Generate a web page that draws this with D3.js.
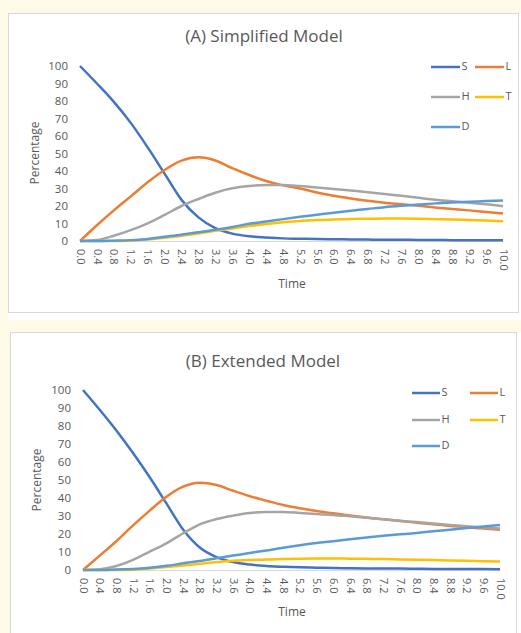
<!DOCTYPE html>
<html lang="en">
<head>
  <meta charset="UTF-8">
  <title>Simplified vs Extended Model</title>
  <script src="https://cdnjs.cloudflare.com/ajax/libs/d3/7.8.5/d3.min.js"></script>
  <style>
    body {
      margin: 0;
      background-color: #fffae8;
      font-family: "Open Sans", sans-serif;
    }
    #chart {
      width: 521px;
      height: 633px;
    }
    .tick text, .lbl {
      fill: #595959;
    }
  </style>
</head>
<body>
  <div id="chart"></div>
  <script>
    const time = [0, 0.4, 0.8, 1.2, 1.6, 2.0, 2.4, 2.8, 3.2, 3.6, 4.0, 4.4, 4.8,
      5.2, 5.6, 6.0, 6.4, 6.8, 7.2, 7.6, 8.0, 8.4, 8.8, 9.2, 9.6, 10.0];
    const yTicks = [0, 10, 20, 30, 40, 50, 60, 70, 80, 90, 100];
    const seriesNames = ["S", "L", "H", "T", "D"];
    const seriesColors = ["#4472c4", "#ed7d31", "#a5a5a5", "#ffc000", "#5b9bd5"];

    // (A) simplified model
    const sA = [100, 90, 79.5, 67.5, 53.5, 38.5, 23.5, 13.5, 7.3, 4.2, 2.7, 2.0, 1.5, 1.3, 1.1,
      1.0, 0.9, 0.8, 0.7, 0.7, 0.6, 0.6, 0.5, 0.5, 0.5, 0.5];
    const lA = [0, 9, 17.5, 25.5, 33.6, 40.6, 45.9, 47.8, 46, 41.6, 37.7, 34.3, 31.8, 30, 27.7,
      25.8, 24.3, 23, 21.9, 21, 20.1, 19.1, 18.3, 17.5, 16.6, 15.7];
    const hA = [0, 0.6, 3, 6.2, 10.1, 14.9, 20, 24, 27.6, 30.1, 31.4, 32, 32, 31.4, 30.6,
      29.7, 28.8, 27.9, 26.9, 25.8, 24.7, 23.6, 22.7, 21.9, 21, 19.9];
    const tA = [0, 0, 0, 0.2, 0.8, 1.8, 3, 4.3, 5.8, 7.2, 8.5, 9.7, 10.7, 11.4, 12,
      12.3, 12.6, 12.7, 12.8, 12.8, 12.7, 12.5, 12.3, 12, 11.7, 11.3];
    const dA = [0, 0, 0.2, 0.5, 1.2, 2.4, 3.6, 5, 6.4, 8, 9.8, 11.1, 12.5, 13.8, 15,
      16.2, 17.3, 18.3, 19.3, 20.1, 20.8, 21.5, 22, 22.4, 22.8, 23.2];

    // (B) extended model
    const sB = [100, 89, 77.5, 65, 51.5, 37, 22.5, 12.5, 7.2, 4.4, 3, 2.2, 1.8, 1.5, 1.3,
      1.1, 1.0, 0.9, 0.8, 0.8, 0.7, 0.6, 0.6, 0.5, 0.5, 0.4];
    const lB = [0, 8, 16, 24.8, 33, 40.7, 46.3, 48.5, 47.2, 44, 41, 38.5, 36.1, 34.3, 32.8,
      31.5, 30.3, 29.2, 28.2, 27.2, 26.3, 25.4, 24.5, 23.8, 23, 22.3];
    const hB = [0, 0.4, 2.2, 5.6, 10.2, 14.8, 20.4, 25.4, 28.3, 30.2, 31.7, 32.2, 32.2, 31.7, 31.1,
      30.6, 29.8, 29, 28.2, 27.4, 26.6, 25.8, 25, 24.3, 23.6, 23];
    const tB = [0, 0, 0, 0.2, 0.8, 1.6, 2.5, 3.4, 4.4, 5.2, 5.5, 5.9, 6.1, 6.3, 6.4,
      6.4, 6.3, 6.2, 6.1, 5.9, 5.7, 5.5, 5.3, 5.1, 4.9, 4.7];
    const dB = [0, 0, 0.3, 0.6, 1.3, 2.3, 3.7, 5, 6.5, 8, 9.5, 10.8, 12.4, 13.8, 15,
      16, 17.1, 18.1, 19, 19.8, 20.6, 21.5, 22.4, 23.3, 24.2, 25];

    const svg = d3.select("#chart").append("svg")
      .attr("width", 521)
      .attr("height", 633);

    function drawPanel(cfg) {
      // frame
      svg.append("rect")
        .attr("x", cfg.box[0]).attr("y", cfg.box[1])
        .attr("width", 521 - cfg.box[0]).attr("height", cfg.box[4])
        .attr("fill", "#ffffff");
      svg.append("rect")
        .attr("x", cfg.box[0] + 0.5).attr("y", cfg.box[1] + 0.5)
        .attr("width", cfg.box[2]).attr("height", cfg.box[3])
        .attr("fill", "none")
        .attr("stroke", "#d9d9d9");

      const x = d3.scaleLinear().domain([0, 10]).range([cfg.x0, cfg.x1]);
      const y = d3.scaleLinear().domain([0, 100]).range([cfg.y0, cfg.y1]);

      const g = svg.append("g");

      // title
      g.append("text")
        .attr("x", cfg.title[1]).attr("y", cfg.title[2])
        .attr("text-anchor", "middle")
        .attr("dominant-baseline", "middle")
        .attr("font-size", 17)
        .attr("fill", "#595959")
        .text(cfg.title[0]);

      // y axis labels
      const yAxis = g.append("g")
        .attr("transform", `translate(${cfg.x0},0)`)
        .call(d3.axisLeft(y).tickValues(yTicks).tickSize(0).tickPadding(12));
      yAxis.select(".domain").remove();
      yAxis.selectAll("text").attr("font-size", 11.5).attr("font-family", "Open Sans");

      // x axis
      const xAxis = g.append("g")
        .attr("transform", `translate(0,${cfg.y0})`)
        .call(d3.axisBottom(x).tickValues(time).tickFormat(d3.format(".1f")).tickSize(0));
      xAxis.select(".domain").attr("stroke", "#d9d9d9").attr("stroke-width", 1);
      xAxis.selectAll("text")
        .attr("font-size", 11)
        .attr("font-family", "Open Sans")
        .attr("text-anchor", "start")
        .attr("transform", "rotate(90)")
        .attr("x", 8)
        .attr("y", 0)
        .attr("dy", "0.35em");

      // axis titles
      g.append("text")
        .attr("class", "lbl")
        .attr("transform", `translate(${cfg.ylab[0]},${cfg.ylab[1]}) rotate(-90)`)
        .attr("text-anchor", "middle")
        .attr("dominant-baseline", "middle")
        .attr("font-size", 12)
        .text("Percentage");
      g.append("text")
        .attr("class", "lbl")
        .attr("x", cfg.xlab[0]).attr("y", cfg.xlab[1])
        .attr("text-anchor", "middle")
        .attr("dominant-baseline", "middle")
        .attr("font-size", 12)
        .text("Time");

      // series
      const line = d3.line()
        .x((d, i) => x(time[i]))
        .y(d => y(d))
        .curve(d3.curveMonotoneX);

      cfg.series.forEach((vals, i) => {
        g.append("path")
          .datum(vals)
          .attr("d", line)
          .attr("fill", "none")
          .attr("stroke", seriesColors[i])
          .attr("stroke-width", 2.5)
          .attr("stroke-linejoin", "round");
      });

      // legend
      const leg = cfg.legend;
      seriesNames.forEach((name, i) => {
        const col = i % 2, row = Math.floor(i / 2);
        const lx = leg.cols[col], ly = leg.rows[row];
        g.append("line")
          .attr("x1", lx).attr("x2", lx + leg.len)
          .attr("y1", ly).attr("y2", ly)
          .attr("stroke", seriesColors[i])
          .attr("stroke-width", 2.5);
        g.append("text")
          .attr("class", "lbl")
          .attr("x", lx + leg.len + 1.5).attr("y", ly)
          .attr("dominant-baseline", "middle")
          .attr("font-size", 11)
          .text(name);
      });
    }

    drawPanel({
      box: [8, 13, 510, 299, 307],
      x0: 80, x1: 503, y0: 241, y1: 66,
      title: ["(A) Simplified Model", 264, 37],
      ylab: [36, 153],
      xlab: [292, 285],
      legend: { cols: [431, 475], rows: [67, 97, 127], len: 29 },
      series: [sA, lA, hA, tA, dA]
    });

    drawPanel({
      box: [10, 332, 506, 310, 301],
      x0: 83, x1: 500, y0: 570, y1: 390,
      title: ["(B) Extended Model", 263, 362],
      ylab: [38, 480],
      xlab: [292, 613],
      legend: { cols: [412, 470], rows: [393, 420, 446], len: 28 },
      series: [sB, lB, hB, tB, dB]
    });
  </script>
</body>
</html>
